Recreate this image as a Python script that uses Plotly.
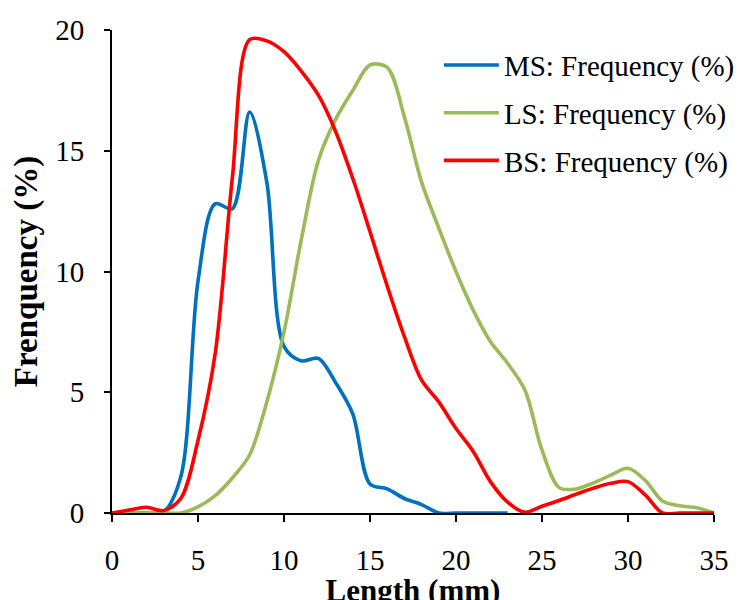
import plotly.graph_objects as go

length_mm = list(range(0, 36))

ms_freq = [0, 0, 0, 0.05, 1.5, 9.6, 12.8, 12.6, 16.6, 13.7, 6.9, 6.3, 6.4, 5.4, 4.1, 1.2,
           1.0, 0.6, 0.35, 0, 0, 0, 0, 0]
ls_freq = [0, 0, 0, 0, 0, 0.25, 0.72, 1.45, 2.4, 4.6, 7.5, 11.3, 14.6, 16.3, 17.5, 18.55,
           18.45, 16.4, 13.7, 11.8, 10.0, 8.4, 7.1, 6.2, 5.1, 2.6, 1.05, 1.0, 1.25, 1.57,
           1.85, 1.35, 0.5, 0.3, 0.22, 0]
bs_freq = [0, 0.12, 0.24, 0.1, 0.6, 3.0, 6.6, 13.9, 19.6, 19.55, 19.1, 18.3, 17.3, 15.8,
           13.85, 11.65, 9.4, 7.3, 5.5, 4.6, 3.5, 2.55, 1.3, 0.45, 0.03, 0.28, 0.52, 0.78,
           1.03, 1.23, 1.3, 0.75, 0, 0, 0, 0]

series = [
    ("MS: Frequency (%)", ms_freq, "#0070C0"),
    ("LS: Frequency (%)", ls_freq, "#9BBB59"),
    ("BS: Frequency (%)", bs_freq, "#FF0000"),
]

FONT = "Liberation Serif"

fig = go.Figure()
for i, (name, vals, color) in enumerate(series):
    fig.add_trace(go.Scatter(
        x=length_mm[:len(vals)], y=vals, name=name, mode="lines",
        line=dict(color=color, width=3.6, shape="spline", smoothing=0.9),
        legendgroup=f"g{i}",
    ))

fig.update_layout(
    width=744, height=600,
    margin=dict(l=104, r=35, t=22, b=95),
    paper_bgcolor="white", plot_bgcolor="white",
    font=dict(family=FONT, size=29, color="black"),
    showlegend=True,
    legend=dict(x=0.543, y=0.98, xanchor="left", yanchor="top",
                bgcolor="rgba(0,0,0,0)", itemwidth=55, tracegroupgap=7,
                font=dict(family=FONT, size=29)),
    xaxis=dict(
        range=[0, 35], tickvals=[0, 5, 10, 15, 20, 25, 30, 35],
        showline=True, linecolor="black", linewidth=2,
        ticks="outside", ticklen=7, tickwidth=2, tickcolor="black",
        showgrid=False, zeroline=False, ticklabelstandoff=13, automargin=False,
        title=dict(text="<b>Length (mm)</b>", standoff=2,
                   font=dict(family=FONT, size=31)),
    ),
    yaxis=dict(
        range=[0, 20], tickvals=[0, 5, 10, 15, 20],
        showline=True, linecolor="black", linewidth=2,
        ticks="outside", ticklen=6, tickwidth=2, tickcolor="black",
        showgrid=False, zeroline=False, ticklabelstandoff=14, automargin=False,
        title=dict(text="<b>Frenquency (%)</b>", standoff=14,
                   font=dict(family=FONT, size=33)),
    ),
)

fig.write_html("out.html")
